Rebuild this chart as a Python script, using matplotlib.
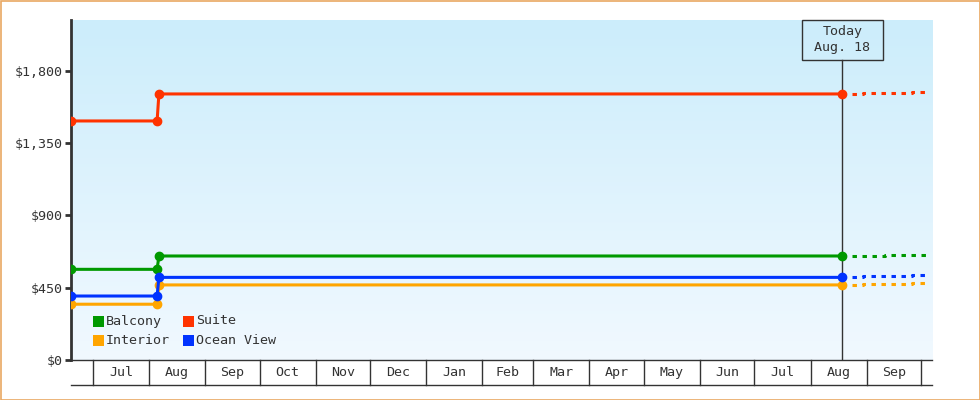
import matplotlib
matplotlib.use('Agg')
import matplotlib.pyplot as plt
import matplotlib.dates as mdates
import matplotlib.transforms as mtransforms
import numpy as np
import pandas as pd
from matplotlib.patches import Rectangle
from matplotlib.lines import Line2D
from matplotlib.ticker import FuncFormatter

# ---------------- data ----------------
series_names = ['Balcony', 'Suite', 'Interior', 'Ocean View']
series_colors = ['#009900', '#FF3300', '#FFA500', '#0033FF']

hist_dates = ['2024-06-19 00:00', '2024-08-05 12:00', '2024-08-06 12:00', '2025-08-18 14:00']
balcony_hist = [564, 564, 647, 647]
suite_hist = [1487, 1487, 1655, 1655]
interior_hist = [347, 347, 467, 467]
ocean_hist = [398, 398, 514, 514]

fc_dates = ['2025-08-18 14:00', '2025-08-30', '2025-09-11', '2025-09-26', '2025-10-04']
balcony_fc = [647, 647, 651, 651, 651]
suite_fc = [1655, 1660, 1660, 1667, 1667]
interior_fc = [467, 473, 473, 477, 477]
ocean_fc = [514, 522, 522, 527, 527]

month_labels = ['Jul', 'Aug', 'Sep', 'Oct', 'Nov', 'Dec', 'Jan', 'Feb',
                'Mar', 'Apr', 'May', 'Jun', 'Jul', 'Aug', 'Sep']
month_starts = ['2024-07-01', '2024-08-01', '2024-09-01', '2024-10-01',
                '2024-11-01', '2024-12-01', '2025-01-01', '2025-02-01',
                '2025-03-01', '2025-04-01', '2025-05-01', '2025-06-01',
                '2025-07-01', '2025-08-01', '2025-09-01', '2025-10-01']
y_ticks = [0, 450, 900, 1350, 1800]
today_date = '2025-08-18 14:00'
today_label = 'Today\nAug. 18'
x_range = ['2024-06-19', '2025-10-07']
y_max = 2115

hist_series = [balcony_hist, suite_hist, interior_hist, ocean_hist]
fc_series = [balcony_fc, suite_fc, interior_fc, ocean_fc]

# ---------------- style ----------------
plt.rcParams['font.family'] = ['DejaVu Sans Mono']
plt.rcParams['lines.scale_dashes'] = False
TXT = '#333333'
FS = 9.6

W, H = 980, 400
fig = plt.figure(figsize=(W / 100, H / 100), dpi=100)
L, R, T, B = 71, 932, 20, 360
ax = fig.add_axes([L / W, 1 - B / H, (R - L) / W, (B - T) / H])

# gradient background
grad = np.linspace(0, 1, 256).reshape(-1, 1)
top = np.array([0.80, 0.93, 0.985])
bot = np.array([0.945, 0.975, 1.0])
img = top[None, None, :] * (1 - grad[:, :, None]) + bot[None, None, :] * grad[:, :, None]
ax.imshow(img, extent=[0, 1, 0, 1], transform=ax.transAxes, aspect='auto', zorder=0)
ax.set_facecolor('none')

hd = pd.to_datetime(hist_dates, format='mixed')
fd = pd.to_datetime(fc_dates, format='mixed')
for name, col, hv, fv in zip(series_names, series_colors, hist_series, fc_series):
    ax.plot(hd, hv, color=col, lw=2.2, marker='o', ms=6, mec=col, mfc=col,
            solid_capstyle='butt', zorder=3)
    ax.plot(fd, fv, color=col, lw=2.2, linestyle=(0, (3.2, 4.0)),
            drawstyle='steps-post', zorder=3)

x0, x1 = pd.to_datetime(x_range)
ax.set_xlim(x0, x1)
ax.set_ylim(0, y_max)

# axes styling
for s in ['top', 'right']:
    ax.spines[s].set_visible(False)
ax.spines['left'].set_color(TXT)
ax.spines['left'].set_linewidth(2)
ax.spines['bottom'].set_color(TXT)
ax.spines['bottom'].set_linewidth(1)
ax.set_yticks(y_ticks)
ax.yaxis.set_major_formatter(FuncFormatter(lambda v, p: f'${int(v):,}'))
ax.tick_params(axis='y', length=4.3, width=2, color=TXT, labelcolor=TXT,
               labelsize=FS, pad=2)
ax.set_xticks([])

# month boxes below axis
trans = mtransforms.blended_transform_factory(ax.transData, ax.transAxes)
box_h = 25 / (B - T)
ms = pd.to_datetime(month_starts)
for d in ms:
    ax.add_line(Line2D([d, d], [0, -box_h], transform=trans, color=TXT,
                       lw=1, clip_on=False))
ax.add_line(Line2D([0, 1], [-box_h, -box_h], transform=ax.transAxes,
                   color=TXT, lw=1, clip_on=False))
for i, lab in enumerate(month_labels):
    mid = ms[i] + (ms[i + 1] - ms[i]) / 2
    ax.text(mid, -box_h / 2, lab, transform=trans, ha='center', va='center',
            fontsize=FS, color=TXT, clip_on=False)

# today marker
td = pd.to_datetime(today_date)
box_bottom = 1 - 40 / (B - T)
ax.add_line(Line2D([td, td], [0, box_bottom], transform=trans, color=TXT,
                   lw=1, zorder=2))
tx_pix = ax.transData.transform((mdates.date2num(td), 0))[0]
box_w_px, box_h_px = 81, 40
fig.patches.append(Rectangle(((tx_pix - box_w_px / 2) / W, 1 - (T + box_h_px) / H),
                             box_w_px / W, box_h_px / H, transform=fig.transFigure,
                             fill=False, ec=TXT, lw=1, zorder=5))
ax.text(td, (1 + box_bottom) / 2, today_label, transform=trans, ha='center',
        va='center', fontsize=FS, color=TXT, linespacing=1.3, zorder=5)

# legend (manual)
leg_rows = [(0, 1), (2, 3)]
col_x = [93, 183]
row_y = [321, 340]
for r, idxs in enumerate(leg_rows):
    for c, i in enumerate(idxs):
        px, py = col_x[c], row_y[r]
        fig.patches.append(Rectangle((px / W, 1 - (py + 5.5) / H), 11 / W, 11 / H,
                                     transform=fig.transFigure, fc=series_colors[i],
                                     ec='none', zorder=6))
        fig.text((px + 13) / W, 1 - py / H, series_names[i], ha='left',
                 va='center', fontsize=FS, color=TXT, zorder=6)

# orange border
fig.patches.append(Rectangle((0.5 / W, 0.5 / H), 1 - 1 / W, 1 - 1 / H,
                             transform=fig.transFigure, fill=False,
                             ec='#E9A862', lw=1.2, zorder=10))

fig.savefig('out.png', dpi=100)
